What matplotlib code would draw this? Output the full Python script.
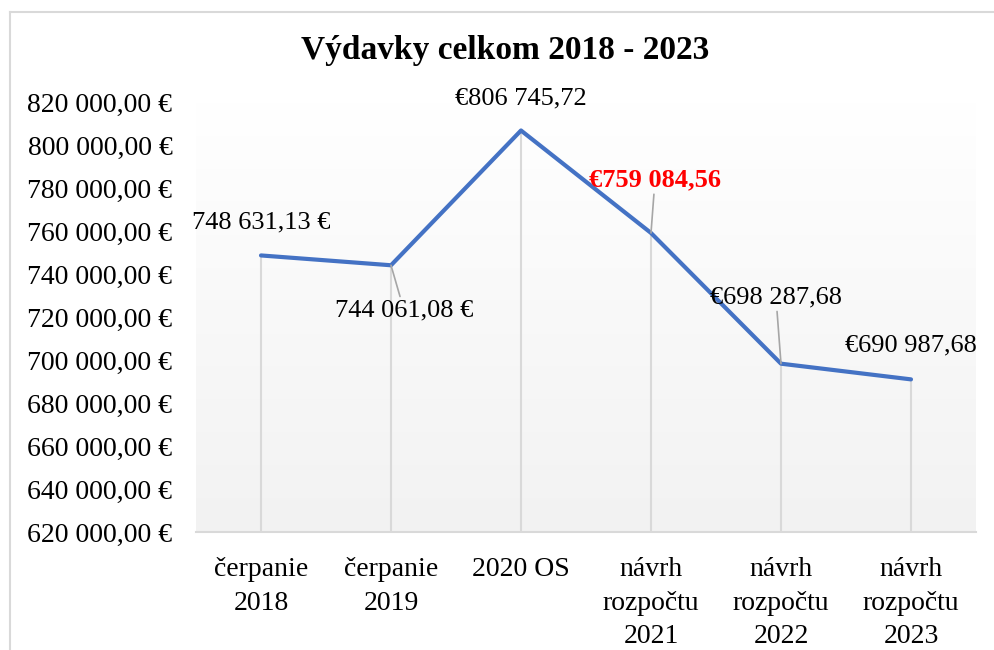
import numpy as np
import matplotlib
matplotlib.use("Agg")
from matplotlib import pyplot as plt
from matplotlib.lines import Line2D

# data
categories = ["čerpanie\n2018", "čerpanie\n2019", "2020 OS",
              "návrh\nrozpočtu\n2021", "návrh\nrozpočtu\n2022", "návrh\nrozpočtu\n2023"]
values = [748631.13, 744061.08, 806745.72, 759084.56, 698287.68, 690987.68]
y_ticks = [620000, 640000, 660000, 680000, 700000, 720000, 740000,
           760000, 780000, 800000, 820000]
title = "Výdavky celkom 2018 - 2023"


def fmt_num(v):
    s = "{:,.2f}".format(v)
    return s.replace(",", " ").replace(".", ",")


# label style per point: euro after / euro before
euro_after = [True, True, False, False, False, False]
label_offsets = [(0, 33), (13, -45), (0, 32), (4, 53), (-5, 66), (0, 34)]   # px
leader = [False, True, False, True, True, False]

plt.rcParams['font.family'] = ['Liberation Serif', 'DejaVu Serif']

fig = plt.figure(figsize=(9.95, 6.5), dpi=100)
W, H = 995.0, 650.0
ax = fig.add_axes([196 / W, 1 - 532 / H, (976 - 196) / W, (532 - 102) / H])

# outer chart border
fig.add_artist(Line2D([10 / W, 1.0], [1 - 12 / H, 1 - 12 / H], color="#d9d9d9", lw=1.5))
fig.add_artist(Line2D([10 / W, 10 / W], [0, 1 - 12 / H], color="#d9d9d9", lw=1.5))

# gradient plot area
grad = np.linspace(1.0, 0.949, 256).reshape(-1, 1)
ax.imshow(np.dstack([grad, grad, grad]), extent=[0, 1, 0, 1], transform=ax.transAxes,
          aspect="auto", zorder=0)

x = np.arange(len(values))
ax.set_xlim(-0.5, len(values) - 0.5)
ax.set_ylim(620000, 820000)

# drop lines
for xi, v in zip(x, values):
    ax.plot([xi, xi], [620000, v], color="#d9d9d9", lw=1.5, zorder=1)

ax.plot(x, values, color="#4472C4", lw=3, zorder=3, solid_capstyle="round")

for i, v in enumerate(values):
    if euro_after[i]:
        txt = fmt_num(v) + " €"
    else:
        txt = "€" + fmt_num(v)
    bold = i == 3
    color = "#ff0000" if bold else "black"
    dx, dy = label_offsets[i]
    ap = None
    if leader[i]:
        ap = dict(arrowstyle="-", color="#a6a6a6", lw=1.2, shrinkA=0, shrinkB=0)
    ax.annotate(txt, xy=(i, v), xytext=(dx * 0.72, dy * 0.72), textcoords="offset points",
                ha="center", va="center", fontsize=19, color=color,
                fontweight="bold" if bold else "normal", arrowprops=ap, zorder=4)

ax.set_xticks(x)
ax.set_xticklabels(categories, fontsize=20, linespacing=1.45)
ax.set_yticks(y_ticks)
ax.set_yticklabels([fmt_num(t) + " €" for t in y_ticks], fontsize=20)
ax.tick_params(axis="both", length=0)
ax.tick_params(axis="y", pad=17)
ax.tick_params(axis="x", pad=18)

for s in ["top", "right", "left"]:
    ax.spines[s].set_visible(False)
ax.spines["bottom"].set_color("#d9d9d9")
ax.spines["bottom"].set_linewidth(1.5)

fig.text(505 / W, 1 - 51 / H, title, ha="center", va="center", fontsize=24, fontweight="bold")

fig.savefig("out.png", dpi=100)
